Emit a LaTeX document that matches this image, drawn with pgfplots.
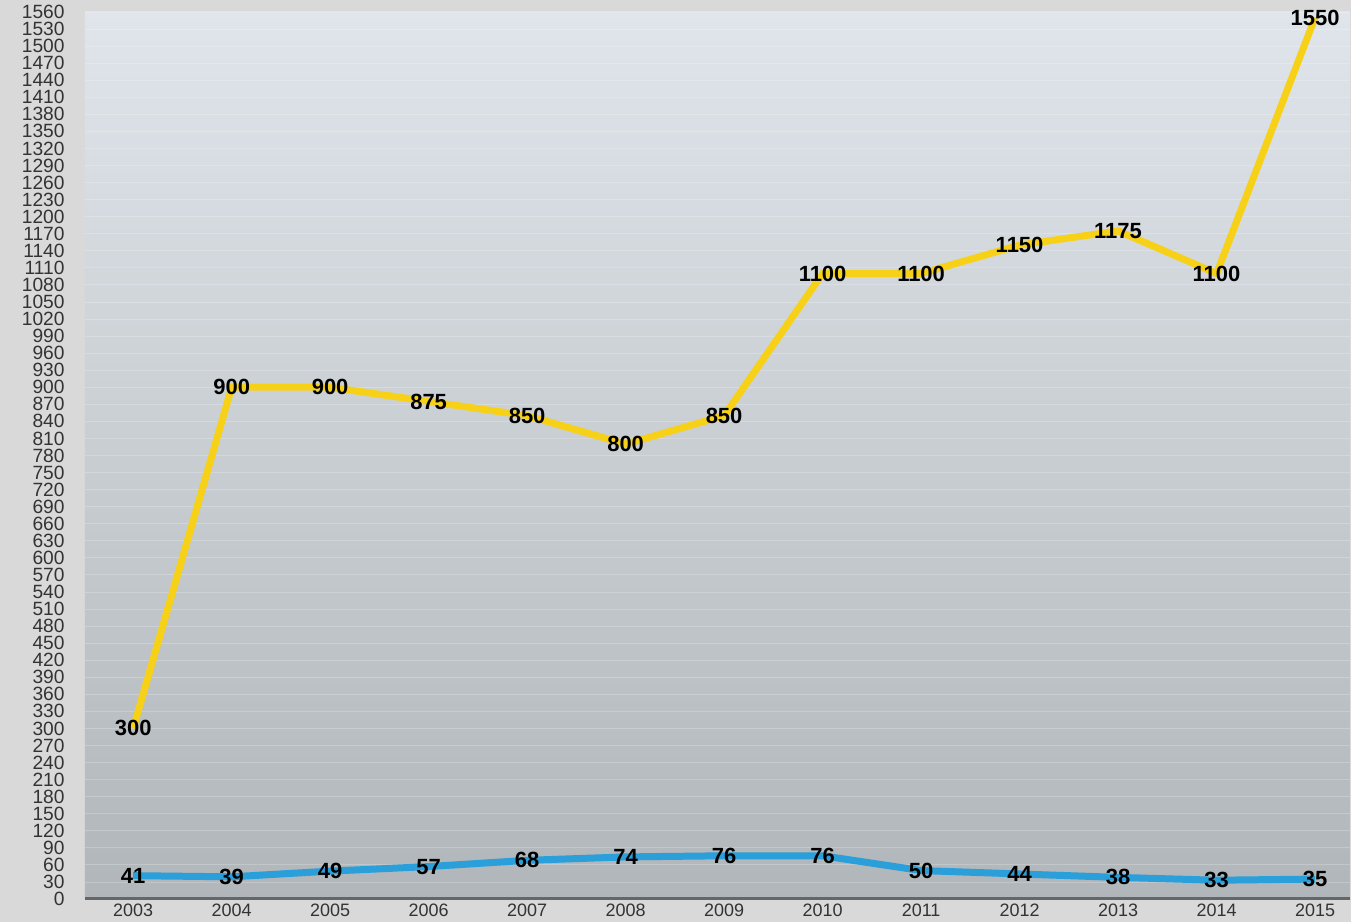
\documentclass[border=0pt]{standalone}
\usepackage{fontspec}
\setmainfont{Liberation Sans}
\usepackage{pgfplots}
\pgfplotsset{compat=1.18}
\usetikzlibrary{backgrounds}

\definecolor{pagegray}{HTML}{D9D9D9}
\definecolor{plottop}{HTML}{E0E5EB}
\definecolor{plotbot}{HTML}{B0B6B9}
\definecolor{goldline}{HTML}{F7D117}
\definecolor{blueline}{HTML}{2A9FDA}
\definecolor{ticktext}{HTML}{333333}

\begin{document}
\begin{tikzpicture}[show background rectangle, inner frame sep=0pt,
  background rectangle/.style={fill=pagegray, draw=none}]
\begin{axis}[
  scale only axis,
  width=633pt, height=444pt,
  xmin=-0.49, xmax=12.35,
  ymin=0, ymax=1560,
  axis x line*=bottom, axis y line*=left,
  x axis line style={draw=black!60, line width=1.5pt},
  y axis line style={draw=none},
  axis background/.style={top color=plottop, bottom color=plotbot},
  xtick={0,1,2,3,4,5,6,7,8,9,10,11,12},
  xticklabels={2003,2004,2005,2006,2007,2008,2009,2010,2011,2012,2013,2014,2015},
  ytick={0,30,...,1560},
  major tick length=0pt,
  ymajorgrids,
  grid style={white, opacity=0.22, line width=0.4pt},
  /pgf/number format/assume math mode=true,
  /pgf/number format/1000 sep={},
  yticklabel style={font=\fontsize{9.6}{9.6}\selectfont, text=ticktext, inner sep=0pt, xshift=-10pt},
  xticklabel style={font=\fontsize{9}{9}\selectfont, text=ticktext, inner sep=0pt, yshift=-2.5pt},
  nodes near coords,
  every node near coord/.style={anchor=center, font=\bfseries\fontsize{11}{11}\selectfont, text=black},
  clip=false,
]
\addplot[goldline, line width=3.5pt] coordinates {
  (0,300) (1,900) (2,900) (3,875) (4,850) (5,800) (6,850)
  (7,1100) (8,1100) (9,1150) (10,1175) (11,1100) (12,1550)
};
\addplot[blueline, line width=3.5pt] coordinates {
  (0,41) (1,39) (2,49) (3,57) (4,68) (5,74) (6,76)
  (7,76) (8,50) (9,44) (10,38) (11,33) (12,35)
};
% room around the plot area, as in the reference
\path (rel axis cs:0,0) ++(-42.5pt,-11.5pt);
\path (rel axis cs:0,1) ++(0,6pt);
\end{axis}
\end{tikzpicture}
\end{document}
